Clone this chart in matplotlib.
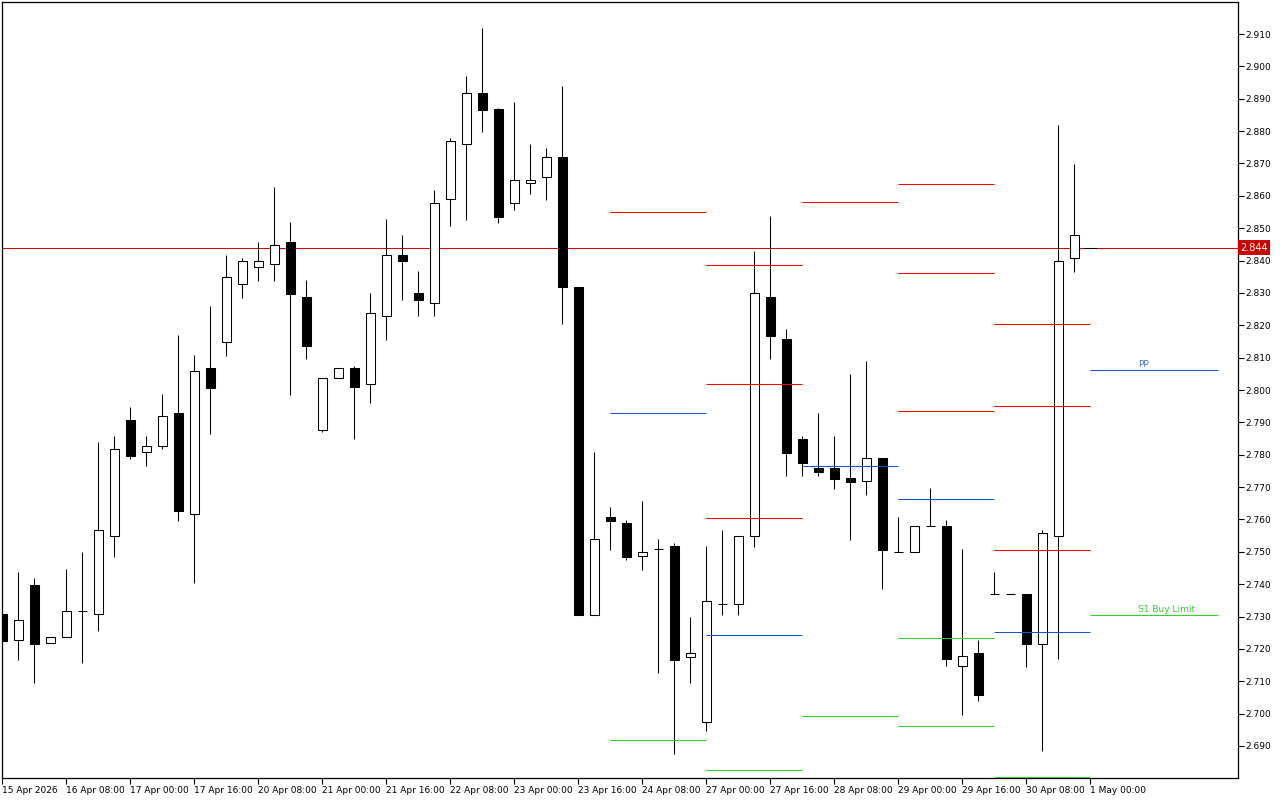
import matplotlib
matplotlib.use("Agg")
import matplotlib.pyplot as plt
import numpy as np

# H4 candles
opens = [2.7308, 2.7227, 2.7397, 2.7217, 2.7236, 2.7316, 2.7307, 2.7548, 2.7907, 2.7807,
         2.7826, 2.7928, 2.7616, 2.8067, 2.8147, 2.8327, 2.8379, 2.8388, 2.8457, 2.8287,
         2.7876, 2.8037, 2.8068, 2.8018, 2.8228, 2.8416, 2.8299, 2.8268, 2.8589, 2.8759,
         2.8917, 2.8867, 2.8577, 2.8639, 2.8657, 2.8720, 2.8318, 2.7306, 2.7607, 2.7589,
         2.7486, 2.7508, 2.7518, 2.7176, 2.6975, 2.7339, 2.7338, 2.7548, 2.8287, 2.8157,
         2.7848, 2.7759, 2.7759, 2.7728, 2.7718, 2.7790, 2.7498, 2.7498, 2.7580, 2.7580,
         2.7147, 2.7187, 2.7369, 2.7369, 2.7370, 2.7216, 2.7548, 2.8407]
highs = [2.7310, 2.7437, 2.7418, 2.7236, 2.7447, 2.7499, 2.7839, 2.7858, 2.7947, 2.7858,
         2.7988, 2.8170, 2.8108, 2.8259, 2.8417, 2.8407, 2.8457, 2.8627, 2.8519, 2.8340,
         2.8036, 2.8068, 2.8074, 2.8300, 2.8528, 2.8479, 2.8368, 2.8617, 2.8779, 2.8970,
         2.9119, 2.8870, 2.8890, 2.8760, 2.8748, 2.8939, 2.8318, 2.7808, 2.7638, 2.7598,
         2.7657, 2.7539, 2.7526, 2.7298, 2.7518, 2.7567, 2.7548, 2.8429, 2.8538, 2.8188,
         2.7858, 2.7929, 2.7858, 2.8049, 2.8089, 2.7790, 2.7607, 2.7579, 2.7697, 2.7598,
         2.7508, 2.7226, 2.7437, 2.7369, 2.7370, 2.7567, 2.8819, 2.8698]
lows = [2.7222, 2.7166, 2.7095, 2.7217, 2.7236, 2.7157, 2.7256, 2.7485, 2.7788, 2.7766,
        2.7817, 2.7596, 2.7404, 2.7865, 2.8106, 2.8285, 2.8338, 2.8338, 2.7985, 2.8097,
        2.7870, 2.8037, 2.7848, 2.7960, 2.8154, 2.8277, 2.8228, 2.8228, 2.8508, 2.8526,
        2.8798, 2.8517, 2.8557, 2.8606, 2.8588, 2.8205, 2.7306, 2.7306, 2.7506, 2.7476,
        2.7445, 2.7126, 2.6876, 2.7095, 2.6947, 2.7306, 2.7306, 2.7516, 2.8097, 2.7735,
        2.7735, 2.7735, 2.7695, 2.7537, 2.7676, 2.7385, 2.7498, 2.7498, 2.7580, 2.7147,
        2.6996, 2.7038, 2.7369, 2.7369, 2.7145, 2.6885, 2.7168, 2.8365]
closes = [2.7225, 2.7289, 2.7216, 2.7236, 2.7316, 2.7316, 2.7566, 2.7817, 2.7797, 2.7826,
          2.7919, 2.7627, 2.8058, 2.8007, 2.8348, 2.8398, 2.8398, 2.8447, 2.8297, 2.8137,
          2.8036, 2.8068, 2.8009, 2.8237, 2.8416, 2.8398, 2.8277, 2.8577, 2.8768, 2.8917,
          2.8866, 2.8535, 2.8648, 2.8648, 2.8719, 2.8317, 2.7306, 2.7539, 2.7596, 2.7485,
          2.7498, 2.7508, 2.7166, 2.7186, 2.7347, 2.7339, 2.7548, 2.8299, 2.8168, 2.7806,
          2.7775, 2.7748, 2.7726, 2.7717, 2.7789, 2.7506, 2.7498, 2.7579, 2.7580, 2.7168,
          2.7178, 2.7056, 2.7369, 2.7369, 2.7216, 2.7557, 2.8398, 2.8478]

time_labels = ["15 Apr 2026", "16 Apr 08:00", "17 Apr 00:00", "17 Apr 16:00", "20 Apr 08:00",
               "21 Apr 00:00", "21 Apr 16:00", "22 Apr 08:00", "23 Apr 00:00", "23 Apr 16:00",
               "24 Apr 08:00", "27 Apr 00:00", "27 Apr 16:00", "28 Apr 08:00", "29 Apr 00:00",
               "29 Apr 16:00", "30 Apr 08:00", "1 May 00:00"]

# daily pivot levels, one list per day
pivot_days = [38, 44, 50, 56, 62]
red_levels = [[2.8550], [2.8385, 2.8020, 2.7603], [2.8580], [2.8636, 2.8361, 2.7934],
              [2.8203, 2.7950, 2.7505]]
blue_levels = [[2.7928], [2.7242], [2.7765], [2.7662], [2.7251]]
green_levels = [[2.6917], [2.6826], [2.6993], [2.7233, 2.6961], [2.6804]]

pp_level = 2.8062
s1_level = 2.7304
last_price = 2.844

RED = "#ff0000"
BLUE = "#1a56c8"
GREEN = "#32cd32"

fig = plt.figure(figsize=(12.8, 8), dpi=100)
ax = fig.add_axes([2 / 1280, 22 / 800, 1236 / 1280, 776 / 800])

o = np.array(opens)
h = np.array(highs)
l = np.array(lows)
c = np.array(closes)
idx = np.arange(len(o))

lw = 0.75
ax.vlines(idx, l, h, color="black", lw=lw, zorder=2)
up = c >= o
ax.bar(idx, np.abs(c - o), bottom=np.minimum(o, c), width=0.6,
       color=np.where(up, "white", "black"), edgecolor="black", lw=lw, zorder=3)

# pivots
for d, day in enumerate(pivot_days):
    for lev in red_levels[d]:
        ax.hlines(lev, day, day + 6, color=RED, lw=lw, zorder=4)
    for lev in blue_levels[d]:
        ax.hlines(lev, day, day + 6, color=BLUE, lw=lw, zorder=4)
    for lev in green_levels[d]:
        ax.hlines(lev, day, day + 6, color=GREEN, lw=lw, zorder=4)

ax.hlines(pp_level, 68, 76, color=BLUE, lw=lw)
ax.hlines(s1_level, 68, 76, color=GREEN, lw=lw)
ax.text(71, pp_level + 0.0004, "PP", color="#3a6fd8", fontsize=6.5, ha="left", va="bottom")
ax.text(71, s1_level + 0.0004, "S1 Buy Limit", color=GREEN, fontsize=6.5, ha="left", va="bottom")

# current price
ax.axhline(last_price, color="#e00000", lw=lw, zorder=1)
ax.hlines(last_price, 67.6, 68.4, color="black", lw=lw, zorder=5)
ax.text(1.0015, last_price, "2.844", transform=ax.get_yaxis_transform(), color="white",
        fontsize=7, ha="left", va="center",
        bbox=dict(boxstyle="square,pad=0.22", fc="#cc0000", ec="none"))

ax.set_xlim(-0.03, 77.22)
ax.set_ylim(2.6801, 2.9199)

ax.yaxis.tick_right()
yt = np.round(np.arange(2.69, 2.9101, 0.01), 3)
ax.set_yticks(yt)
ax.set_yticklabels([f"{v:.3f}" for v in yt])
ax.set_xticks(np.arange(0, 4 * len(time_labels), 4))
ax.set_xticklabels(time_labels, ha="left")
ax.tick_params(axis="both", direction="out", length=4, width=0.8, labelsize=6.5,
               colors="black", pad=1)
ax.tick_params(axis="x", pad=2)

for s in ax.spines.values():
    s.set_linewidth(0.9)
    s.set_color("black")

fig.savefig("out.png", dpi=100)
